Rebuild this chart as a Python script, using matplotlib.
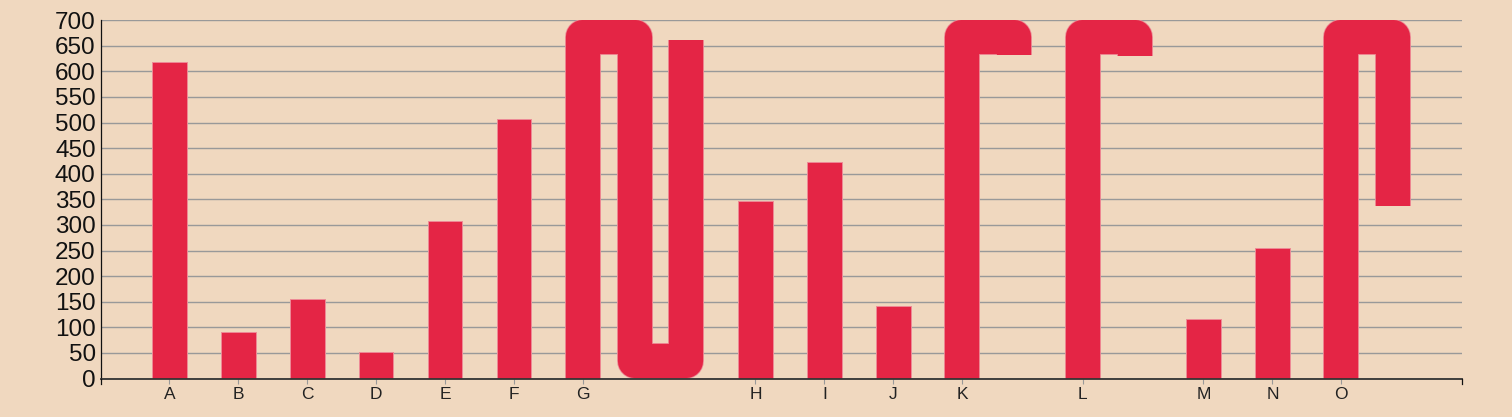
import math
import matplotlib
matplotlib.use("Agg")
import matplotlib.pyplot as plt
from matplotlib.lines import Line2D

# ---- data ----
categories = ["A", "B", "C", "D", "E", "F", "G", "H", "I", "J", "K", "L", "M", "N", "O"]
values = [619, 91, 155, 51, 307, 507, 2061, 347, 423, 141, 766, 770, 117, 255, 1063]
y_max = 700
y_ticks = list(range(0, 701, 50))

# ---- style ----
BG = "#f0d8bf"
BAR = "#e42545"
BAR_EDGE = "#ee8a96"
GRID = "#999999"

W, H, DPI = 1512, 417, 100
fig = plt.figure(figsize=(W / DPI, H / DPI), dpi=DPI, facecolor=BG)
ax_l, ax_r, ax_t, ax_b = 100.5, 1462, 20.1, 378.5
ax = fig.add_axes([ax_l / W, (H - ax_b) / H, (ax_r - ax_l) / W, (ax_b - ax_t) / H])
ax.set_facecolor(BG)

# column layout: overflowing values fold over into extra columns
bar_w = 0.5
fold_step = 0.75
columns = []   # list of column x positions per category
pos = 0.0
for v in values:
    n = 1 if v <= y_max else 1 + math.ceil((v - y_max) / y_max)
    cols = [pos + fold_step * k for k in range(n)]
    columns.append(cols)
    pos = cols[-1] + 1.0
x_min, x_max = -1.0, pos

ax.set_xlim(x_min, x_max)
ax.set_ylim(0, y_max)

# pixel scales
sx = (ax_r - ax_l) / (x_max - x_min)
sy = (ax_b - ax_t) / y_max
w_px = bar_w * sx
t = w_px / sy  # band thickness in data units

# grid
ax.set_yticks(y_ticks)
ax.grid(axis="y", color=GRID, linewidth=1.0, zorder=0)
ax.grid(axis="x", visible=False)

# simple bars
simple_x = [c[0] for c, v in zip(columns, values) if v <= y_max]
simple_v = [v for v in values if v <= y_max]
ax.bar(simple_x, simple_v, width=bar_w, color=BAR, edgecolor=BAR_EDGE,
       linewidth=0.7, zorder=3)

# folded bars drawn as thick serpentine strokes
lw_pt = w_px * 72 / DPI
for cols, v in zip(columns, values):
    if v <= y_max:
        continue
    xs = [cols[0]]
    ys = [0]
    n = len(cols)
    for k in range(n):
        up = (k % 2 == 0)
        if k < n - 1:
            yt = y_max - t / 2 if up else t / 2
            xs += [cols[k], cols[k + 1]]
            ys += [yt, yt]
        else:
            r = v - y_max * k
            end = max(r, t) if up else min(y_max - r, y_max - t)
            xs.append(cols[k])
            ys.append(end)
    ax.plot(xs, ys, color=BAR_EDGE, linewidth=lw_pt + 1.0, solid_joinstyle="round",
            solid_capstyle="butt", zorder=3)
    ax.plot(xs, ys, color=BAR, linewidth=lw_pt - 0.2, solid_joinstyle="round",
            solid_capstyle="butt", zorder=3)

# axes styling
for s in ["top", "right"]:
    ax.spines[s].set_visible(False)
ax.spines["left"].set_color("#111111")
ax.spines["left"].set_linewidth(0.9)
ax.spines["bottom"].set_color("#333333")
ax.spines["bottom"].set_linewidth(1.3)
ax.spines["left"].set_zorder(5)
ax.spines["bottom"].set_zorder(5)

ax.set_xticks([c[0] for c in columns])
ax.set_xticklabels(categories)
ax.tick_params(axis="x", length=3.6, width=0.8, color="#999999", pad=2.5,
               labelsize=12.5, labelcolor="#222222")
ax.tick_params(axis="y", length=0, pad=3.5, labelsize=17.5, labelcolor="#111111")
for lab in ax.get_xticklabels() + ax.get_yticklabels():
    lab.set_fontfamily("Liberation Sans")

# outer ticks at both ends of the x axis
for xp in (ax_l, ax_r):
    fig.add_artist(Line2D([xp / W, xp / W], [(H - ax_b) / H, (H - ax_b - 5.5) / H],
                          color="#111111", linewidth=0.9))

fig.savefig("out.png", dpi=DPI, facecolor=BG)
